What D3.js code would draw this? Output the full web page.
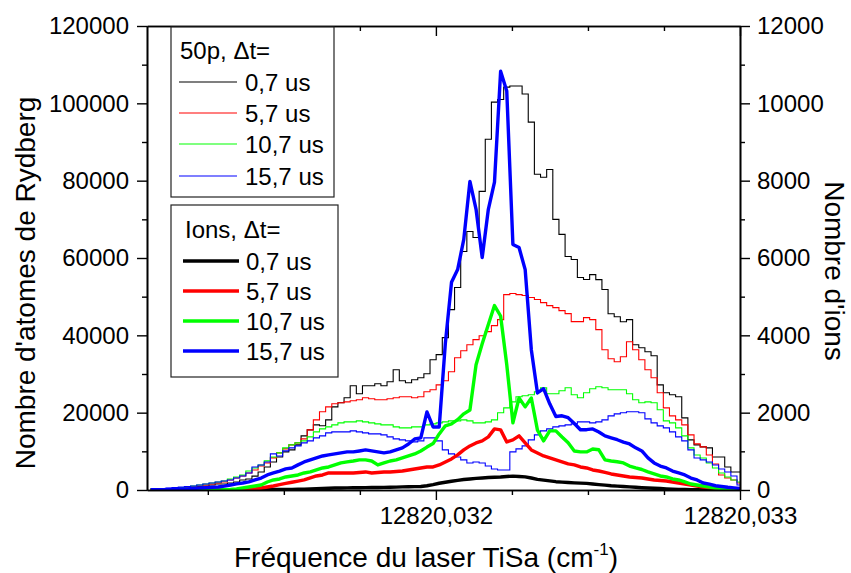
<!DOCTYPE html>
<html>
<head>
<meta charset="utf-8">
<script src="https://cdnjs.cloudflare.com/ajax/libs/d3/7.8.5/d3.min.js"></script>
<style>
  body { margin: 0; background: #fff; }
  svg text { font-family: "Liberation Sans", Arial, sans-serif; fill: #000; }
</style>
</head>
<body>
<div id="chart"></div>
<script>
// scan grid of the TiSa laser (cm-1)
const freqStart = 12820.031062;
const freqStep = 0.00002019;
const nPoints = 97;

// Rydberg atoms (50p), left axis
const rydBlack = [130,130,260,260,390,520,520,780,900,1040,
  1300,1560,1560,1800,2070,2600,2850,3600,4670,5960,
  7260,8550,9850,10370,11660,14000,15550,16850,16600,18140,
  21500,22550,23850,26960,24880,26960,26960,27480,26960,28000,
  31100,28250,27740,28500,29030,30070,33700,35000,39400,46660,
  52360,61690,66870,65300,77240,90720,100300,101000,104200,104500,
  104500,102400,95130,81650,80900,82900,70000,66100,60400,59600,
  54950,54430,55700,54400,51840,45600,44800,43500,44060,37580,
  36800,35770,34730,27200,25140,24620,24100,18660,12960,11660,
  11150,10890,8550,8550,5960,4670,4670];
const rydRed = [130,130,260,260,390,520,650,780,1040,1300,
  1560,1800,2070,2600,3110,3630,4400,5180,6220,7000,
  8300,9590,10630,11660,12180,13220,15550,18140,20220,21510,
  22290,22550,22800,23070,23330,23850,23590,23330,23330,23590,
  23850,24100,24100,23850,24100,25400,25920,27200,28250,30600,
  34200,36000,37580,38880,39900,40950,42500,44060,50540,50800,
  50540,50300,49770,49250,48470,47690,47170,46400,45620,43550,
  43550,44580,44060,41470,36290,33950,33180,34470,38360,36290,
  33700,31100,29030,25140,21250,19180,18140,16850,14260,11920,
  11150,9070,6740,3890,3110,2600,1800];
const rydGreen = [130,260,260,390,520,650,780,1040,1300,1560,
  1800,2070,2330,2850,3370,3890,4920,5700,6480,7520,
  8550,9590,10890,11660,12180,12700,13740,15030,15810,16330,
  16850,17370,17630,17630,17880,17630,17370,17110,16850,16850,
  16330,16070,16070,16330,16330,16850,17110,17370,17630,17880,
  17880,18140,17880,17370,17370,17630,18140,19960,21250,22800,
  24100,24360,24620,25400,26440,24880,24880,25660,26440,24620,
  23850,25140,26180,26700,26440,25920,25920,25920,24880,23330,
  22550,22800,22550,20740,17880,17370,16070,14000,10890,9070,
  8290,7000,5700,4410,3370,2600,2070];
const rydBlue = [260,260,390,520,650,780,900,1040,1300,1560,
  1800,2070,2330,2600,3110,3630,4400,5960,6480,7260,
  9330,8810,10110,10890,11400,12180,12700,13480,14000,14770,
  15030,15030,15030,15290,15030,14770,14510,14510,14260,13740,
  13220,12960,12700,12440,12700,13480,13480,12700,10370,9330,
  8550,7780,7000,7260,7000,6220,5440,5180,5180,9850,
  10630,11400,12960,14260,15290,15810,16330,16590,16850,17110,
  17630,17630,17370,17630,18140,19180,19700,19960,20220,20220,
  19960,18400,17370,16590,16070,15030,13740,12700,10370,8290,
  7780,7260,6480,5440,4670,3630,1300];

// ions, right axis
const ionBlack = [0,0,0,0,0,0,0,0,0,0,
  3,4,5,6,7,8,9,10,11,12,
  13,14,15,16,18,22,28,33,40,45,
  50,52,55,57,60,62,63,65,68,72,
  75,80,84,88,92,110,140,175,200,225,
  250,270,285,300,312,322,330,337,350,360,
  350,340,310,275,255,235,215,205,195,185,
  178,170,155,140,125,110,100,90,80,70,
  60,52,45,38,30,22,15,12,10,8,
  6,5,3,2,2,1,0];
const ionRed = [0,0,0,0,0,0,0,0,0,0,
  0,0,0,1,2,3,10,30,52,78,
  104,140,170,200,230,260,311,363,389,440,
  440,440,440,440,454,467,440,454,467,467,
  480,492,518,544,570,596,596,648,726,803,
  907,1037,1140,1218,1270,1374,1580,1555,1244,1296,
  1400,1218,1037,959,881,829,778,726,674,648,
  596,570,518,492,454,415,389,363,337,324,
  311,285,260,246,233,207,181,155,130,104,
  78,65,52,39,26,13,0];
const ionGreen = [0,0,0,0,0,0,0,0,0,0,
  0,3,8,13,26,52,78,104,130,207,
  259,285,337,363,389,440,467,518,570,596,
  648,700,726,750,778,778,750,648,700,750,
  778,830,880,933,1010,1110,1200,1450,1660,1710,
  1820,1970,2070,3240,3780,4280,4770,4500,3240,1740,
  2380,2150,2380,1550,1270,1530,1530,1370,1220,1010,
  985,985,1060,1040,780,750,730,700,620,570,
  530,467,415,363,337,285,260,210,155,130,
  104,78,52,39,26,13,0];
const ionBlue = [5,8,10,13,18,26,30,40,50,60,
  70,78,100,130,160,180,210,260,310,390,
  440,490,545,570,650,725,778,830,880,907,
  933,960,985,985,1010,1037,1010,985,960,985,
  1037,1090,1190,1320,1350,2020,1630,1630,3800,5370,
  5700,6480,7980,7260,6010,7260,7960,10830,10320,6350,
  6270,5700,3630,2510,2620,2230,1900,1920,1870,1720,
  1560,1560,1580,1500,1400,1350,1300,1240,1190,1090,
  1010,830,700,620,570,490,440,390,310,260,
  181,150,110,90,70,55,40];

const delays = ["0,7 us", "5,7 us", "10,7 us", "15,7 us"];
const colors = ["#000000", "#ff0000", "#00ff00", "#0000ff"];

const xMajor = [12820.032, 12820.033];
const xMinor = [12820.03125, 12820.0315, 12820.03175, 12820.03225, 12820.0325, 12820.03275];
const yLeftMajor = [0, 20000, 40000, 60000, 80000, 100000, 120000];
const yLeftMinor = [10000, 30000, 50000, 70000, 90000, 110000];
const yRightMajor = [0, 2000, 4000, 6000, 8000, 10000, 12000];
const yRightMinor = [1000, 3000, 5000, 7000, 9000, 11000];

const width = 851, height = 573;
const margin = { top: 26, right: 111, bottom: 83, left: 147 };
const plotW = width - margin.left - margin.right;
const plotH = height - margin.top - margin.bottom;

const freq = d3.range(nPoints).map(i => freqStart + i * freqStep);

const svg = d3.select("#chart").append("svg")
  .attr("width", width)
  .attr("height", height);

const x = d3.scaleLinear().domain([12820.03105, 12820.033]).range([margin.left, margin.left + plotW]);
const yL = d3.scaleLinear().domain([0, 120000]).range([margin.top + plotH, margin.top]);
const yR = d3.scaleLinear().domain([0, 12000]).range([margin.top + plotH, margin.top]);

svg.append("clipPath").attr("id", "plotClip")
  .append("rect")
  .attr("x", margin.left).attr("y", margin.top)
  .attr("width", plotW).attr("height", plotH);

const plot = svg.append("g").attr("clip-path", "url(#plotClip)");

const thinLine = d3.line()
  .x((d, i) => x(freq[i]))
  .y(d => yL(d))
  .curve(d3.curveStep);

const thickLine = d3.line()
  .x((d, i) => x(freq[i]))
  .y(d => yR(d));

[rydBlack, rydRed, rydGreen, rydBlue].forEach((vals, k) => {
  plot.append("path")
    .datum(vals)
    .attr("fill", "none")
    .attr("stroke", colors[k])
    .attr("stroke-width", 1.1)
    .attr("d", thinLine);
});

[ionBlack, ionRed, ionGreen, ionBlue].forEach((vals, k) => {
  plot.append("path")
    .datum(vals)
    .attr("fill", "none")
    .attr("stroke", colors[k])
    .attr("stroke-width", 3.4)
    .attr("stroke-linejoin", "round")
    .attr("d", thickLine);
});

// axes
const fmtX = d => d3.format(".3f")(d).replace(".", ",");
const axisStyle = g => {
  g.selectAll("path.domain").attr("stroke", "#000").attr("stroke-width", 1.6);
  g.selectAll(".tick line").attr("stroke", "#000").attr("stroke-width", 1.4);
  g.selectAll("text").attr("font-size", 24).attr("font-family", "Liberation Sans, Arial, sans-serif");
};

const bottom = margin.top + plotH;
const right = margin.left + plotW;

svg.append("g").attr("transform", `translate(0,${bottom})`)
  .call(d3.axisBottom(x).tickValues(xMajor).tickFormat(fmtX).tickSize(10).tickSizeOuter(0).tickPadding(7))
  .call(axisStyle);
svg.append("g").attr("transform", `translate(0,${bottom})`)
  .call(d3.axisBottom(x).tickValues(xMinor).tickFormat("").tickSize(5).tickSizeOuter(0))
  .call(axisStyle);

svg.append("g").attr("transform", `translate(0,${margin.top})`)
  .call(d3.axisTop(x).tickValues(xMajor).tickFormat("").tickSize(-10).tickSizeOuter(0))
  .call(axisStyle);
svg.append("g").attr("transform", `translate(0,${margin.top})`)
  .call(d3.axisTop(x).tickValues(xMinor).tickFormat("").tickSize(-5).tickSizeOuter(0))
  .call(axisStyle);

svg.append("g").attr("transform", `translate(${margin.left},0)`)
  .call(d3.axisLeft(yL).tickValues(yLeftMajor).tickFormat(d3.format("d")).tickSize(10).tickSizeOuter(0).tickPadding(8))
  .call(axisStyle);
svg.append("g").attr("transform", `translate(${margin.left},0)`)
  .call(d3.axisLeft(yL).tickValues(yLeftMinor).tickFormat("").tickSize(5).tickSizeOuter(0))
  .call(axisStyle);

svg.append("g").attr("transform", `translate(${right},0)`)
  .call(d3.axisRight(yR).tickValues(yRightMajor).tickFormat(d3.format("d")).tickSize(10).tickSizeOuter(0).tickPadding(7))
  .call(axisStyle);
svg.append("g").attr("transform", `translate(${right},0)`)
  .call(d3.axisRight(yR).tickValues(yRightMinor).tickFormat("").tickSize(5).tickSizeOuter(0))
  .call(axisStyle);

// axis titles
const xTitle = svg.append("text")
  .attr("x", 234).attr("y", 567)
  .attr("font-size", 28);
xTitle.append("tspan").text("Fréquence du laser TiSa (cm");
xTitle.append("tspan").attr("font-size", 17).attr("dy", -12).text("-1");
xTitle.append("tspan").attr("dy", 12).text(")");

svg.append("text")
  .attr("transform", "translate(35,283) rotate(-90)")
  .attr("text-anchor", "middle")
  .attr("font-size", 28)
  .text("Nombre d'atomes de Rydberg");

svg.append("text")
  .attr("transform", "translate(825,271) rotate(90)")
  .attr("text-anchor", "middle")
  .attr("font-size", 28)
  .text("Nombre d'ions");

// legends
function legend(box, title, titleX, titleY, lineX, textX, rowY, lw) {
  const g = svg.append("g");
  g.append("rect")
    .attr("x", box[0]).attr("y", box[1])
    .attr("width", box[2]).attr("height", box[3])
    .attr("fill", "#fff").attr("stroke", "#222").attr("stroke-width", 1.2);
  g.append("text").attr("x", titleX).attr("y", titleY).attr("font-size", 24).text(title);
  delays.forEach((lab, k) => {
    g.append("line")
      .attr("x1", lineX[0]).attr("x2", lineX[1])
      .attr("y1", rowY[k]).attr("y2", rowY[k])
      .attr("stroke", colors[k]).attr("stroke-width", lw);
    g.append("text")
      .attr("x", textX).attr("y", rowY[k]).attr("dy", "0.36em")
      .attr("font-size", 24).text(lab);
  });
}

legend([171, 27, 163, 170], "50p, \u0394t=", 180, 59, [179, 237], 245, [82, 113, 144, 176], 1.1);
legend([171, 205, 167, 172], "Ions, \u0394t=", 185, 238, [183, 239], 246, [261, 291, 321, 351], 3.6);
</script>
</body>
</html>
